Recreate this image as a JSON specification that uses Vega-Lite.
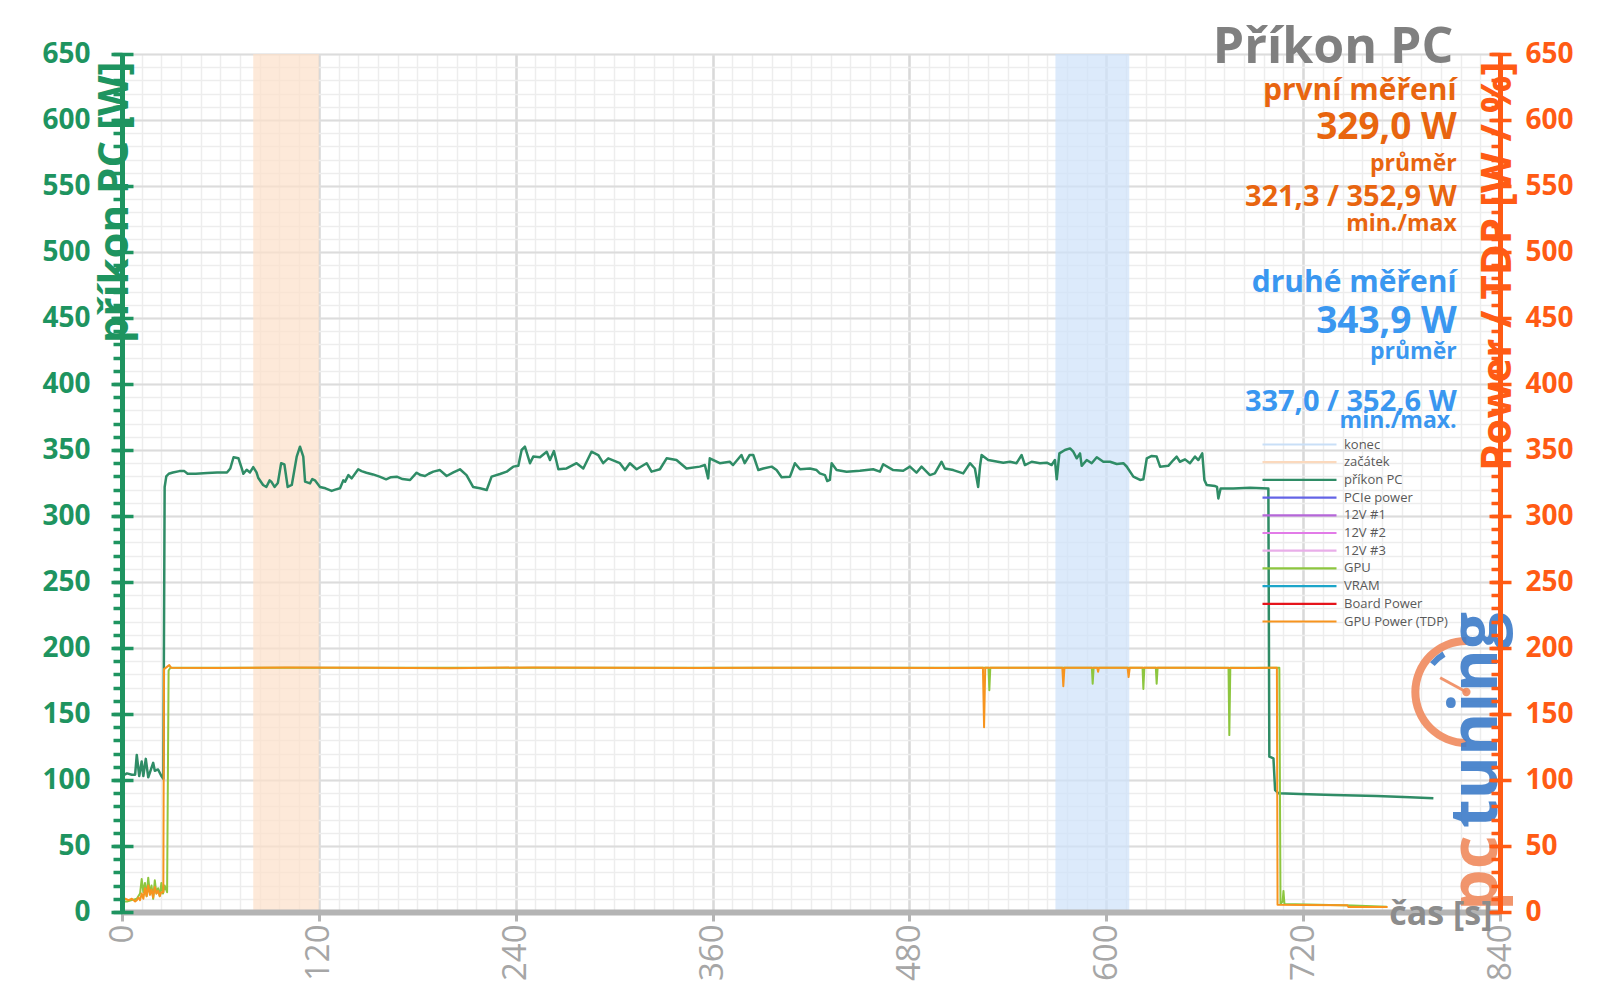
{
  "$schema": "https://vega.github.io/schema/vega-lite/v6.json",
  "width": 1378,
  "height": 858,
  "autosize": {"type": "none"},
  "padding": {"left": 122, "top": 54, "right": 100, "bottom": 96},
  "background": "white",
  "config": {"view": {"stroke": null}, "font": "Open Sans"},
  "resolve": {"axis": {"x": "independent", "y": "independent"}},
  "datasets": {
    "bands": [
      {"name": "začátek", "start": 80, "end": 120},
      {"name": "konec", "start": 569, "end": 614}
    ],
    "series": [
      {"s":"příkon PC","t":0,"v":103},{"s":"příkon PC","t":3,"v":105},{"s":"příkon PC","t":6,"v":104},{"s":"příkon PC","t":8,"v":104},{"s":"příkon PC","t":9,"v":119},{"s":"příkon PC","t":10.5,"v":103},{"s":"příkon PC","t":12,"v":114},{"s":"příkon PC","t":13,"v":103},{"s":"příkon PC","t":14.5,"v":116},{"s":"příkon PC","t":16,"v":102},{"s":"příkon PC","t":19,"v":113},{"s":"příkon PC","t":20,"v":107},{"s":"příkon PC","t":22,"v":108},{"s":"příkon PC","t":24,"v":103},{"s":"příkon PC","t":25.2,"v":101},{"s":"příkon PC","t":26,"v":322},{"s":"příkon PC","t":27,"v":330},{"s":"příkon PC","t":28.5,"v":332},{"s":"příkon PC","t":31,"v":333},{"s":"příkon PC","t":35,"v":334},{"s":"příkon PC","t":38,"v":334},{"s":"příkon PC","t":40,"v":332},{"s":"příkon PC","t":45,"v":332},{"s":"příkon PC","t":52,"v":332.5},{"s":"příkon PC","t":58,"v":333},{"s":"příkon PC","t":64,"v":333},{"s":"příkon PC","t":66,"v":336},{"s":"příkon PC","t":68,"v":344.5},{"s":"příkon PC","t":71,"v":343.7},{"s":"příkon PC","t":73,"v":336},{"s":"příkon PC","t":74,"v":332},{"s":"příkon PC","t":76,"v":335},{"s":"příkon PC","t":78,"v":333},{"s":"příkon PC","t":80,"v":337},{"s":"příkon PC","t":82,"v":333},{"s":"příkon PC","t":83,"v":329},{"s":"příkon PC","t":86,"v":323.5},{"s":"příkon PC","t":88,"v":322},{"s":"příkon PC","t":90,"v":327},{"s":"příkon PC","t":91,"v":326},{"s":"příkon PC","t":93,"v":322},{"s":"příkon PC","t":95,"v":325},{"s":"příkon PC","t":97,"v":340},{"s":"příkon PC","t":99,"v":339},{"s":"příkon PC","t":101,"v":322},{"s":"příkon PC","t":103.5,"v":323.5},{"s":"příkon PC","t":106.5,"v":345},{"s":"příkon PC","t":108.5,"v":352.5},{"s":"příkon PC","t":110.5,"v":345},{"s":"příkon PC","t":111.6,"v":326},{"s":"příkon PC","t":114.6,"v":324.7},{"s":"příkon PC","t":116,"v":328},{"s":"příkon PC","t":117.6,"v":327},{"s":"příkon PC","t":120.7,"v":322},{"s":"příkon PC","t":124,"v":321},{"s":"příkon PC","t":127.8,"v":319},{"s":"příkon PC","t":130,"v":320},{"s":"příkon PC","t":132.9,"v":321},{"s":"příkon PC","t":134.9,"v":327},{"s":"příkon PC","t":136,"v":326},{"s":"příkon PC","t":138,"v":331},{"s":"příkon PC","t":140,"v":328.5},{"s":"příkon PC","t":144,"v":335.4},{"s":"příkon PC","t":146,"v":334},{"s":"příkon PC","t":149,"v":332.8},{"s":"příkon PC","t":153,"v":331.5},{"s":"příkon PC","t":157,"v":329.8},{"s":"příkon PC","t":161,"v":327.8},{"s":"příkon PC","t":164,"v":329.4},{"s":"příkon PC","t":167.5,"v":329.8},{"s":"příkon PC","t":171,"v":328},{"s":"příkon PC","t":175.6,"v":327.3},{"s":"příkon PC","t":179.6,"v":332.8},{"s":"příkon PC","t":182,"v":331},{"s":"příkon PC","t":184.7,"v":330.3},{"s":"příkon PC","t":187,"v":332},{"s":"příkon PC","t":189.8,"v":333.6},{"s":"příkon PC","t":193.8,"v":334.8},{"s":"příkon PC","t":197.9,"v":330.3},{"s":"příkon PC","t":202,"v":333},{"s":"příkon PC","t":206,"v":335.4},{"s":"příkon PC","t":210,"v":331},{"s":"příkon PC","t":214,"v":322},{"s":"příkon PC","t":218.2,"v":321},{"s":"příkon PC","t":222.3,"v":319.7},{"s":"příkon PC","t":225.3,"v":329.8},{"s":"příkon PC","t":230.4,"v":331.8},{"s":"příkon PC","t":234.5,"v":333.6},{"s":"příkon PC","t":238.5,"v":337.4},{"s":"příkon PC","t":241.6,"v":338},{"s":"příkon PC","t":243.6,"v":350},{"s":"příkon PC","t":245.6,"v":352.5},{"s":"příkon PC","t":248.7,"v":340},{"s":"příkon PC","t":250.7,"v":345},{"s":"příkon PC","t":254.8,"v":344.5},{"s":"příkon PC","t":258.9,"v":348.7},{"s":"příkon PC","t":260.9,"v":342.4},{"s":"příkon PC","t":263.3,"v":349.2},{"s":"příkon PC","t":266,"v":335.4},{"s":"příkon PC","t":271,"v":336},{"s":"příkon PC","t":277.1,"v":340},{"s":"příkon PC","t":281.2,"v":336},{"s":"příkon PC","t":286.2,"v":348.7},{"s":"příkon PC","t":290.3,"v":346.2},{"s":"příkon PC","t":293.3,"v":340},{"s":"příkon PC","t":296.4,"v":343.7},{"s":"příkon PC","t":303.5,"v":340},{"s":"příkon PC","t":306.6,"v":334.8},{"s":"příkon PC","t":309.6,"v":340},{"s":"příkon PC","t":313.7,"v":335.4},{"s":"příkon PC","t":319.8,"v":340},{"s":"příkon PC","t":322.8,"v":333.6},{"s":"příkon PC","t":327.9,"v":335.4},{"s":"příkon PC","t":332,"v":343.7},{"s":"příkon PC","t":338,"v":342.4},{"s":"příkon PC","t":344.1,"v":336},{"s":"příkon PC","t":352.2,"v":337.4},{"s":"příkon PC","t":355.3,"v":338.6},{"s":"příkon PC","t":357.3,"v":328.5},{"s":"příkon PC","t":358.3,"v":343.7},{"s":"příkon PC","t":364.4,"v":340},{"s":"příkon PC","t":370.5,"v":341.1},{"s":"příkon PC","t":372.5,"v":338.6},{"s":"příkon PC","t":377.6,"v":346.2},{"s":"příkon PC","t":379.6,"v":340},{"s":"příkon PC","t":382.6,"v":346.2},{"s":"příkon PC","t":384.8,"v":346.2},{"s":"příkon PC","t":387.9,"v":334.8},{"s":"příkon PC","t":390.9,"v":336},{"s":"příkon PC","t":396,"v":337.4},{"s":"příkon PC","t":399,"v":334.8},{"s":"příkon PC","t":402.1,"v":329.3},{"s":"příkon PC","t":407.2,"v":329.8},{"s":"příkon PC","t":410.2,"v":340},{"s":"příkon PC","t":413.3,"v":335.4},{"s":"příkon PC","t":419.4,"v":336},{"s":"příkon PC","t":423.4,"v":334.8},{"s":"příkon PC","t":425.4,"v":332.3},{"s":"příkon PC","t":428.5,"v":331},{"s":"příkon PC","t":429.9,"v":326.5},{"s":"příkon PC","t":431.5,"v":327.3},{"s":"příkon PC","t":432.6,"v":340},{"s":"příkon PC","t":435.6,"v":334.8},{"s":"příkon PC","t":441.7,"v":333.6},{"s":"příkon PC","t":449.8,"v":334.3},{"s":"příkon PC","t":457.9,"v":335.4},{"s":"příkon PC","t":462,"v":333.6},{"s":"příkon PC","t":464,"v":339.2},{"s":"příkon PC","t":470.1,"v":334.8},{"s":"příkon PC","t":476.2,"v":334.3},{"s":"příkon PC","t":480.3,"v":337.4},{"s":"příkon PC","t":484.3,"v":332.8},{"s":"příkon PC","t":487.4,"v":337.4},{"s":"příkon PC","t":492.5,"v":331},{"s":"příkon PC","t":495.5,"v":332.3},{"s":"příkon PC","t":499.6,"v":341.1},{"s":"příkon PC","t":501.6,"v":336},{"s":"příkon PC","t":506.7,"v":334.8},{"s":"příkon PC","t":512.8,"v":332.3},{"s":"příkon PC","t":516.9,"v":340},{"s":"příkon PC","t":519.9,"v":336},{"s":"příkon PC","t":521.9,"v":322},{"s":"příkon PC","t":523,"v":337.4},{"s":"příkon PC","t":524,"v":346.2},{"s":"příkon PC","t":528,"v":342.4},{"s":"příkon PC","t":537.2,"v":340.4},{"s":"příkon PC","t":541.3,"v":341.1},{"s":"příkon PC","t":545.3,"v":340},{"s":"příkon PC","t":548.4,"v":346.2},{"s":"příkon PC","t":550.4,"v":338.6},{"s":"příkon PC","t":554.5,"v":341.1},{"s":"příkon PC","t":559.6,"v":340},{"s":"příkon PC","t":563.7,"v":340.4},{"s":"příkon PC","t":566.7,"v":338.6},{"s":"příkon PC","t":568.7,"v":342.4},{"s":"příkon PC","t":569.8,"v":327.8},{"s":"příkon PC","t":571.4,"v":347.4},{"s":"příkon PC","t":574.8,"v":350},{"s":"příkon PC","t":577.9,"v":351.2},{"s":"příkon PC","t":579.9,"v":348.7},{"s":"příkon PC","t":582,"v":343.7},{"s":"příkon PC","t":584,"v":347.4},{"s":"příkon PC","t":585,"v":338},{"s":"příkon PC","t":588.1,"v":342.4},{"s":"příkon PC","t":591.1,"v":340},{"s":"příkon PC","t":594.2,"v":344.5},{"s":"příkon PC","t":598.2,"v":341.1},{"s":"příkon PC","t":602.3,"v":341.1},{"s":"příkon PC","t":606.4,"v":339.4},{"s":"příkon PC","t":610.4,"v":340},{"s":"příkon PC","t":612.4,"v":337.5},{"s":"příkon PC","t":616.5,"v":329.8},{"s":"příkon PC","t":620.6,"v":327.3},{"s":"příkon PC","t":622.6,"v":327.8},{"s":"příkon PC","t":624.7,"v":343.7},{"s":"příkon PC","t":627.7,"v":345.5},{"s":"příkon PC","t":630.7,"v":345},{"s":"příkon PC","t":632.8,"v":337.4},{"s":"příkon PC","t":637.8,"v":338},{"s":"příkon PC","t":640.9,"v":342.4},{"s":"příkon PC","t":642.9,"v":345},{"s":"příkon PC","t":644.9,"v":341.1},{"s":"příkon PC","t":648,"v":342.9},{"s":"příkon PC","t":651,"v":340},{"s":"příkon PC","t":654.1,"v":345},{"s":"příkon PC","t":656.1,"v":342.4},{"s":"příkon PC","t":658.5,"v":347.4},{"s":"příkon PC","t":659.8,"v":327.3},{"s":"příkon PC","t":661.2,"v":323.5},{"s":"příkon PC","t":666.3,"v":322.7},{"s":"příkon PC","t":667.5,"v":322},{"s":"příkon PC","t":668.3,"v":313.3},{"s":"příkon PC","t":669.7,"v":320.9},{"s":"příkon PC","t":677.4,"v":320.9},{"s":"příkon PC","t":687.6,"v":321.4},{"s":"příkon PC","t":698.8,"v":320.9},{"s":"příkon PC","t":699.4,"v":117.7},{"s":"příkon PC","t":701.9,"v":116.4},{"s":"příkon PC","t":702.9,"v":92.4},{"s":"příkon PC","t":705,"v":89.9},{"s":"příkon PC","t":718.1,"v":89.4},{"s":"příkon PC","t":738.4,"v":88.6},{"s":"příkon PC","t":764.9,"v":87.9},{"s":"příkon PC","t":785.1,"v":86.9},{"s":"příkon PC","t":799.4,"v":86.1},
      {"s":"GPU","t":0,"v":8},{"s":"GPU","t":3,"v":8},{"s":"GPU","t":6,"v":9},{"s":"GPU","t":9,"v":10},{"s":"GPU","t":11,"v":14},{"s":"GPU","t":12,"v":25},{"s":"GPU","t":13,"v":15},{"s":"GPU","t":14,"v":22},{"s":"GPU","t":15,"v":12},{"s":"GPU","t":16,"v":26},{"s":"GPU","t":17,"v":14},{"s":"GPU","t":18,"v":20},{"s":"GPU","t":19,"v":10},{"s":"GPU","t":20,"v":24},{"s":"GPU","t":21,"v":14},{"s":"GPU","t":22,"v":18},{"s":"GPU","t":23,"v":12},{"s":"GPU","t":24,"v":22},{"s":"GPU","t":25,"v":14},{"s":"GPU","t":26,"v":20},{"s":"GPU","t":27.5,"v":15},{"s":"GPU","t":28.4,"v":183},{"s":"GPU","t":29.5,"v":185},{"s":"GPU","t":100,"v":185},{"s":"GPU","t":200,"v":185},{"s":"GPU","t":300,"v":185},{"s":"GPU","t":400,"v":185},{"s":"GPU","t":500,"v":185},{"s":"GPU","t":528.2,"v":185},{"s":"GPU","t":528.7,"v":168},{"s":"GPU","t":529.3,"v":185},{"s":"GPU","t":591.2,"v":185},{"s":"GPU","t":591.7,"v":173},{"s":"GPU","t":592.3,"v":185},{"s":"GPU","t":622.1,"v":185},{"s":"GPU","t":622.6,"v":169},{"s":"GPU","t":623.2,"v":185},{"s":"GPU","t":630.2,"v":185},{"s":"GPU","t":630.7,"v":173},{"s":"GPU","t":631.3,"v":185},{"s":"GPU","t":674.5,"v":185},{"s":"GPU","t":675,"v":134},{"s":"GPU","t":675.6,"v":185},{"s":"GPU","t":705.5,"v":185},{"s":"GPU","t":706.2,"v":6},{"s":"GPU","t":707.5,"v":8},{"s":"GPU","t":708,"v":16},{"s":"GPU","t":708.6,"v":6},{"s":"GPU","t":750,"v":5},{"s":"GPU","t":771,"v":4},
      {"s":"GPU Power (TDP)","t":0,"v":9},{"s":"GPU Power (TDP)","t":2,"v":10},{"s":"GPU Power (TDP)","t":4,"v":9},{"s":"GPU Power (TDP)","t":6,"v":10},{"s":"GPU Power (TDP)","t":8,"v":8},{"s":"GPU Power (TDP)","t":9,"v":9},{"s":"GPU Power (TDP)","t":10,"v":11},{"s":"GPU Power (TDP)","t":11,"v":9},{"s":"GPU Power (TDP)","t":12,"v":14},{"s":"GPU Power (TDP)","t":13,"v":10},{"s":"GPU Power (TDP)","t":14,"v":18},{"s":"GPU Power (TDP)","t":15,"v":12},{"s":"GPU Power (TDP)","t":16,"v":20},{"s":"GPU Power (TDP)","t":17,"v":13},{"s":"GPU Power (TDP)","t":18,"v":17},{"s":"GPU Power (TDP)","t":19,"v":11},{"s":"GPU Power (TDP)","t":20,"v":19},{"s":"GPU Power (TDP)","t":21,"v":14},{"s":"GPU Power (TDP)","t":22,"v":16},{"s":"GPU Power (TDP)","t":23,"v":12},{"s":"GPU Power (TDP)","t":24,"v":15},{"s":"GPU Power (TDP)","t":25.2,"v":15},{"s":"GPU Power (TDP)","t":25.6,"v":184},{"s":"GPU Power (TDP)","t":28.8,"v":187},{"s":"GPU Power (TDP)","t":30,"v":185},{"s":"GPU Power (TDP)","t":60,"v":184.8},{"s":"GPU Power (TDP)","t":100,"v":185.2},{"s":"GPU Power (TDP)","t":150,"v":185},{"s":"GPU Power (TDP)","t":200,"v":184.7},{"s":"GPU Power (TDP)","t":250,"v":185.3},{"s":"GPU Power (TDP)","t":300,"v":185},{"s":"GPU Power (TDP)","t":350,"v":184.8},{"s":"GPU Power (TDP)","t":400,"v":185.1},{"s":"GPU Power (TDP)","t":450,"v":185},{"s":"GPU Power (TDP)","t":500,"v":184.9},{"s":"GPU Power (TDP)","t":524.8,"v":185},{"s":"GPU Power (TDP)","t":525.5,"v":140},{"s":"GPU Power (TDP)","t":526.2,"v":185},{"s":"GPU Power (TDP)","t":550,"v":185.1},{"s":"GPU Power (TDP)","t":573.2,"v":185},{"s":"GPU Power (TDP)","t":573.8,"v":171},{"s":"GPU Power (TDP)","t":574.5,"v":185},{"s":"GPU Power (TDP)","t":594.5,"v":185},{"s":"GPU Power (TDP)","t":595,"v":182},{"s":"GPU Power (TDP)","t":595.5,"v":185},{"s":"GPU Power (TDP)","t":613,"v":185},{"s":"GPU Power (TDP)","t":613.6,"v":178},{"s":"GPU Power (TDP)","t":614.3,"v":185},{"s":"GPU Power (TDP)","t":650,"v":185},{"s":"GPU Power (TDP)","t":690,"v":184.9},{"s":"GPU Power (TDP)","t":704,"v":185},{"s":"GPU Power (TDP)","t":704.4,"v":5.5},{"s":"GPU Power (TDP)","t":720,"v":5.3},{"s":"GPU Power (TDP)","t":747,"v":5.2},{"s":"GPU Power (TDP)","t":747.6,"v":3.8},{"s":"GPU Power (TDP)","t":771.5,"v":3.8}
    ]
  },
  "layer": [
    {
      "data": {"values": [{}]},
      "mark": {"type": "point", "opacity": 0},
      "encoding": {
        "x": {"datum": 0, "type": "quantitative", "scale": {"domain": [0, 840], "nice": false, "zero": false},
          "axis": {"orient": "bottom", "values": [0,12,24,36,48,60,72,84,96,108,120,132,144,156,168,180,192,204,216,228,240,252,264,276,288,300,312,324,336,348,360,372,384,396,408,420,432,444,456,468,480,492,504,516,528,540,552,564,576,588,600,612,624,636,648,660,672,684,696,708,720,732,744,756,768,780,792,804,816,828,840],
            "grid": true, "gridColor": "#EDEDED", "gridWidth": 1.5, "domain": false, "ticks": false, "labels": false, "title": null, "zindex": 0}},
        "y": {"datum": 0, "type": "quantitative", "scale": {"domain": [0, 650], "nice": false},
          "axis": {"orient": "left", "values": [0,10,20,30,40,50,60,70,80,90,100,110,120,130,140,150,160,170,180,190,200,210,220,230,240,250,260,270,280,290,300,310,320,330,340,350,360,370,380,390,400,410,420,430,440,450,460,470,480,490,500,510,520,530,540,550,560,570,580,590,600,610,620,630,640,650],
            "grid": true, "gridColor": "#EDEDED", "gridWidth": 1.5, "domain": false, "ticks": false, "labels": false, "title": null, "zindex": 0}}
      }
    },
    {
      "data": {"values": [{}]},
      "mark": {"type": "point", "opacity": 0},
      "encoding": {
        "x": {"datum": 0, "type": "quantitative", "scale": {"domain": [0, 840], "nice": false, "zero": false},
          "axis": {"orient": "bottom", "values": [0,120,240,360,480,600,720,840], "grid": true, "gridColor": "#D9D9D9", "gridWidth": 2.5, "domain": false, "ticks": false, "labels": false, "title": null, "zindex": 0}},
        "y": {"datum": 0, "type": "quantitative", "scale": {"domain": [0, 650], "nice": false},
          "axis": {"orient": "left", "values": [0,50,100,150,200,250,300,350,400,450,500,550,600,650], "grid": true, "gridColor": "#DCDCDC", "gridWidth": 2, "domain": false, "ticks": false, "labels": false, "title": null, "zindex": 0}}
      }
    },
    {
      "data": {"name": "bands"},
      "mark": {"type": "rect", "opacity": 0.72},
      "encoding": {
        "x": {"field": "start", "type": "quantitative", "scale": {"domain": [0, 840], "nice": false, "zero": false}, "axis": null},
        "x2": {"field": "end"},
        "fill": {"condition": {"test": "datum.name === 'konec'", "value": "#CFE2FA"}, "value": "#FCE0CA"}
      }
    },
    {
      "data": {"name": "series"},
      "transform": [{"filter": "datum.s === 'příkon PC'"}],
      "mark": {"type": "line", "strokeWidth": 2.5, "strokeJoin": "round"},
      "encoding": {
        "x": {"field": "t", "type": "quantitative", "scale": {"domain": [0, 840], "nice": false, "zero": false}, "axis": null},
        "y": {"field": "v", "type": "quantitative", "scale": {"domain": [0, 650], "nice": false}, "axis": null},
        "color": {"field": "s", "type": "nominal",
          "scale": {"domain": ["konec","začátek","příkon PC","PCIe power","12V #1","12V #2","12V #3","GPU","VRAM","Board Power","GPU Power (TDP)"],
                    "range": ["#C9DFF7","#FBD9BD","#2F8C66","#6464E6","#B566D9","#E27BE8","#E9AEE9","#8DC63F","#1CA5C9","#E5141B","#F7941E"]},
          "legend": {"orient": "none", "legendX": 1171, "legendY": 384, "title": null, "symbolType": "M -7.4 0 H 7.4", "symbolSize": 100, "symbolStrokeWidth": 2.2, "labelFont": "Open Sans", "labelFontSize": 13, "labelColor": "#595959", "labelOffset": 38, "rowPadding": 3.7, "padding": 0}}
      }
    },
    {
      "data": {"name": "series"},
      "transform": [{"filter": "datum.s === 'GPU'"}],
      "mark": {"type": "line", "strokeWidth": 2, "strokeJoin": "round"},
      "encoding": {
        "x": {"field": "t", "type": "quantitative", "scale": {"domain": [0, 840], "nice": false, "zero": false}, "axis": null},
        "y": {"field": "v", "type": "quantitative", "scale": {"domain": [0, 650], "nice": false}, "axis": null},
        "color": {"field": "s", "type": "nominal",
          "scale": {"domain": ["konec","začátek","příkon PC","PCIe power","12V #1","12V #2","12V #3","GPU","VRAM","Board Power","GPU Power (TDP)"],
                    "range": ["#C9DFF7","#FBD9BD","#2F8C66","#6464E6","#B566D9","#E27BE8","#E9AEE9","#8DC63F","#1CA5C9","#E5141B","#F7941E"]},
          "legend": {"orient": "none", "legendX": 1171, "legendY": 384, "title": null, "symbolType": "M -7.4 0 H 7.4", "symbolSize": 100, "symbolStrokeWidth": 2.2, "labelFont": "Open Sans", "labelFontSize": 13, "labelColor": "#595959", "labelOffset": 38, "rowPadding": 3.7, "padding": 0}}
      }
    },
    {
      "data": {"name": "series"},
      "transform": [{"filter": "datum.s === 'GPU Power (TDP)'"}],
      "mark": {"type": "line", "strokeWidth": 2, "strokeJoin": "round"},
      "encoding": {
        "x": {"field": "t", "type": "quantitative", "scale": {"domain": [0, 840], "nice": false, "zero": false}, "axis": null},
        "y": {"field": "v", "type": "quantitative", "scale": {"domain": [0, 650], "nice": false}, "axis": null},
        "color": {"field": "s", "type": "nominal",
          "scale": {"domain": ["konec","začátek","příkon PC","PCIe power","12V #1","12V #2","12V #3","GPU","VRAM","Board Power","GPU Power (TDP)"],
                    "range": ["#C9DFF7","#FBD9BD","#2F8C66","#6464E6","#B566D9","#E27BE8","#E9AEE9","#8DC63F","#1CA5C9","#E5141B","#F7941E"]},
          "legend": {"orient": "none", "legendX": 1171, "legendY": 384, "title": null, "symbolType": "M -7.4 0 H 7.4", "symbolSize": 100, "symbolStrokeWidth": 2.2, "labelFont": "Open Sans", "labelFontSize": 13, "labelColor": "#595959", "labelOffset": 38, "rowPadding": 3.7, "padding": 0}}
      }
    },
    {"data": {"values": [{}]}, "mark": {"type": "text", "text": "Příkon PC", "align": "right", "baseline": "alphabetic", "font": "Open Sans", "fontSize": 50, "fontWeight": "bold", "fill": "#808080"},
     "encoding": {"x": {"datum": 811.5, "type": "quantitative", "scale": {"domain": [0, 840], "nice": false, "zero": false}, "axis": null}, "y": {"datum": 643, "type": "quantitative", "scale": {"domain": [0, 650], "nice": false}, "axis": null}}},
    {"data": {"values": [{}]}, "mark": {"type": "text", "text": "první měření", "align": "right", "baseline": "alphabetic", "font": "Open Sans", "fontSize": 30, "fontWeight": "bold", "fill": "#E8650F"},
     "encoding": {"x": {"datum": 813.6, "type": "quantitative", "scale": {"domain": [0, 840], "nice": false, "zero": false}, "axis": null}, "y": {"datum": 615, "type": "quantitative", "scale": {"domain": [0, 650], "nice": false}, "axis": null}}},
    {"data": {"values": [{}]}, "mark": {"type": "text", "text": "329,0 W", "align": "right", "baseline": "alphabetic", "font": "Open Sans", "fontSize": 37, "fontWeight": "bold", "fill": "#E8650F"},
     "encoding": {"x": {"datum": 813.6, "type": "quantitative", "scale": {"domain": [0, 840], "nice": false, "zero": false}, "axis": null}, "y": {"datum": 585.4, "type": "quantitative", "scale": {"domain": [0, 650], "nice": false}, "axis": null}}},
    {"data": {"values": [{}]}, "mark": {"type": "text", "text": "průměr", "align": "right", "baseline": "alphabetic", "font": "Open Sans", "fontSize": 23, "fontWeight": "bold", "fill": "#E8650F"},
     "encoding": {"x": {"datum": 813.6, "type": "quantitative", "scale": {"domain": [0, 840], "nice": false, "zero": false}, "axis": null}, "y": {"datum": 561.5, "type": "quantitative", "scale": {"domain": [0, 650], "nice": false}, "axis": null}}},
    {"data": {"values": [{}]}, "mark": {"type": "text", "text": "321,3 / 352,9 W", "align": "right", "baseline": "alphabetic", "font": "Open Sans", "fontSize": 29, "fontWeight": "bold", "fill": "#E8650F"},
     "encoding": {"x": {"datum": 813.6, "type": "quantitative", "scale": {"domain": [0, 840], "nice": false, "zero": false}, "axis": null}, "y": {"datum": 534.9, "type": "quantitative", "scale": {"domain": [0, 650], "nice": false}, "axis": null}}},
    {"data": {"values": [{}]}, "mark": {"type": "text", "text": "min./max", "align": "right", "baseline": "alphabetic", "font": "Open Sans", "fontSize": 23, "fontWeight": "bold", "fill": "#E8650F"},
     "encoding": {"x": {"datum": 813.6, "type": "quantitative", "scale": {"domain": [0, 840], "nice": false, "zero": false}, "axis": null}, "y": {"datum": 516, "type": "quantitative", "scale": {"domain": [0, 650], "nice": false}, "axis": null}}},
    {"data": {"values": [{}]}, "mark": {"type": "text", "text": "druhé měření", "align": "right", "baseline": "alphabetic", "font": "Open Sans", "fontSize": 30, "fontWeight": "bold", "fill": "#3A97F0"},
     "encoding": {"x": {"datum": 813.6, "type": "quantitative", "scale": {"domain": [0, 840], "nice": false, "zero": false}, "axis": null}, "y": {"datum": 470, "type": "quantitative", "scale": {"domain": [0, 650], "nice": false}, "axis": null}}},
    {"data": {"values": [{}]}, "mark": {"type": "text", "text": "343,9 W", "align": "right", "baseline": "alphabetic", "font": "Open Sans", "fontSize": 37, "fontWeight": "bold", "fill": "#3A97F0"},
     "encoding": {"x": {"datum": 813.6, "type": "quantitative", "scale": {"domain": [0, 840], "nice": false, "zero": false}, "axis": null}, "y": {"datum": 438.3, "type": "quantitative", "scale": {"domain": [0, 650], "nice": false}, "axis": null}}},
    {"data": {"values": [{}]}, "mark": {"type": "text", "text": "průměr", "align": "right", "baseline": "alphabetic", "font": "Open Sans", "fontSize": 23, "fontWeight": "bold", "fill": "#3A97F0"},
     "encoding": {"x": {"datum": 813.6, "type": "quantitative", "scale": {"domain": [0, 840], "nice": false, "zero": false}, "axis": null}, "y": {"datum": 419, "type": "quantitative", "scale": {"domain": [0, 650], "nice": false}, "axis": null}}},
    {"data": {"values": [{}]}, "mark": {"type": "text", "text": "337,0 / 352,6 W", "align": "right", "baseline": "alphabetic", "font": "Open Sans", "fontSize": 29, "fontWeight": "bold", "fill": "#3A97F0"},
     "encoding": {"x": {"datum": 813.6, "type": "quantitative", "scale": {"domain": [0, 840], "nice": false, "zero": false}, "axis": null}, "y": {"datum": 379.5, "type": "quantitative", "scale": {"domain": [0, 650], "nice": false}, "axis": null}}},
    {"data": {"values": [{}]}, "mark": {"type": "text", "text": "min./max.", "align": "right", "baseline": "alphabetic", "font": "Open Sans", "fontSize": 23, "fontWeight": "bold", "fill": "#3A97F0"},
     "encoding": {"x": {"datum": 813.6, "type": "quantitative", "scale": {"domain": [0, 840], "nice": false, "zero": false}, "axis": null}, "y": {"datum": 366.8, "type": "quantitative", "scale": {"domain": [0, 650], "nice": false}, "axis": null}}},
    {"data": {"values": [{}]}, "mark": {"type": "arc", "radius": 55, "radius2": 47, "theta": 3.1416, "theta2": 6.2832, "fill": "#F08A5D", "opacity": 0.9},
     "encoding": {"x": {"datum": 819.5, "type": "quantitative", "scale": {"domain": [0, 840], "nice": false, "zero": false}, "axis": null}, "y": {"datum": 166.7, "type": "quantitative", "scale": {"domain": [0, 650], "nice": false}, "axis": null}}},
    {"data": {"values": [{}]}, "mark": {"type": "arc", "radius": 47, "radius2": 41, "theta": 5.4, "theta2": 5.75, "fill": "#3D7CC9", "opacity": 0.9},
     "encoding": {"x": {"datum": 819.5, "type": "quantitative", "scale": {"domain": [0, 840], "nice": false, "zero": false}, "axis": null}, "y": {"datum": 166.7, "type": "quantitative", "scale": {"domain": [0, 650], "nice": false}, "axis": null}}},
    {"data": {"values": [{}]}, "mark": {"type": "rule", "stroke": "#F08A5D", "strokeWidth": 3, "opacity": 0.9},
     "encoding": {"x": {"datum": 819.5, "type": "quantitative", "scale": {"domain": [0, 840], "nice": false, "zero": false}, "axis": null}, "y": {"datum": 166.7, "type": "quantitative", "scale": {"domain": [0, 650], "nice": false}, "axis": null}, "x2": {"datum": 803.5}, "y2": {"datum": 177.5}}},
    {"data": {"values": [{}]}, "mark": {"type": "point", "filled": true, "size": 70, "fill": "#F08A5D", "opacity": 0.9},
     "encoding": {"x": {"datum": 819.5, "type": "quantitative", "scale": {"domain": [0, 840], "nice": false, "zero": false}, "axis": null}, "y": {"datum": 166.7, "type": "quantitative", "scale": {"domain": [0, 650], "nice": false}, "axis": null}}},
    {"data": {"values": [{}]}, "mark": {"type": "text", "text": "pc", "angle": 270, "align": "left", "baseline": "middle", "font": "Open Sans", "fontSize": 66, "fontWeight": "bold", "fill": "#F08A5D", "opacity": 0.9},
     "encoding": {"x": {"datum": 826, "type": "quantitative", "scale": {"domain": [0, 840], "nice": false, "zero": false}, "axis": null}, "y": {"datum": 0.8, "type": "quantitative", "scale": {"domain": [0, 650], "nice": false}, "axis": null}}},
    {"data": {"values": [{}]}, "mark": {"type": "text", "text": "tuning", "angle": 270, "align": "left", "baseline": "middle", "font": "Open Sans", "fontSize": 66, "fontWeight": "bold", "fill": "#3D7CC9", "opacity": 0.9},
     "encoding": {"x": {"datum": 826, "type": "quantitative", "scale": {"domain": [0, 840], "nice": false, "zero": false}, "axis": null}, "y": {"datum": 63.6, "type": "quantitative", "scale": {"domain": [0, 650], "nice": false}, "axis": null}}},
    {
      "data": {"values": [{}]},
      "mark": {"type": "point", "opacity": 0},
      "encoding": {
        "x": {"datum": 0, "type": "quantitative", "scale": {"domain": [0, 840], "nice": false, "zero": false},
          "axis": {"orient": "bottom", "values": [0,120,240,360,480,600,720,840], "grid": false, "domain": true, "domainColor": "#B4B4B4", "domainWidth": 6, "ticks": true, "tickColor": "#B4B4B4", "tickWidth": 3, "tickSize": 9,
            "labelAngle": 270, "labelFont": "Open Sans", "labelFontSize": 33, "labelColor": "#A6A6A6", "labelPadding": 3, "labelFlush": false, "labelOverlap": false,
            "title": "čas [s]", "titleFont": "Open Sans", "titleFontSize": 34, "titleFontWeight": "bold", "titleColor": "#8C8C8C", "titleX": 1370, "titleY": 2, "titleAlign": "right", "titleBaseline": "middle", "titleAngle": 0, "zindex": 1}},
        "y": {"datum": 0, "type": "quantitative", "scale": {"domain": [0, 650], "nice": false},
          "axis": {"orient": "left", "values": [0,50,100,150,200,250,300,350,400,450,500,550,600,650], "grid": false, "domain": true, "domainColor": "#1E9460", "domainWidth": 5, "ticks": false,
            "labelFont": "Open Sans", "labelFontSize": 28, "labelFontWeight": "bold", "labelColor": "#1E9460", "labelPadding": 32, "labelOverlap": false,
            "title": "příkon PC [W]", "titleFont": "Open Sans", "titleFontSize": 42, "titleFontWeight": "bold", "titleColor": "#1E9460", "titleAngle": 270, "titleX": -8, "titleY": 7, "titleAlign": "right", "titleBaseline": "middle", "zindex": 1}}
      }
    },
    {
      "data": {"values": [{}]},
      "mark": {"type": "point", "opacity": 0},
      "encoding": {
        "y": {"datum": 0, "type": "quantitative", "scale": {"domain": [0, 650], "nice": false},
          "axis": {"orient": "left", "values": [0,10,20,30,40,50,60,70,80,90,100,110,120,130,140,150,160,170,180,190,200,210,220,230,240,250,260,270,280,290,300,310,320,330,340,350,360,370,380,390,400,410,420,430,440,450,460,470,480,490,500,510,520,530,540,550,560,570,580,590,600,610,620,630,640,650],
            "grid": false, "domain": false, "ticks": true, "tickColor": "#1E9460", "tickWidth": 3.5, "tickSize": 9, "labels": false, "title": null, "zindex": 1}}
      }
    },
    {
      "data": {"values": [{}]},
      "mark": {"type": "point", "opacity": 0},
      "encoding": {
        "y": {"datum": 0, "type": "quantitative", "scale": {"domain": [0, 650], "nice": false},
          "axis": {"orient": "left", "offset": -11, "values": [0,50,100,150,200,250,300,350,400,450,500,550,600,650],
            "grid": false, "domain": false, "ticks": true, "tickColor": "#1E9460", "tickWidth": 3.5, "tickSize": 22, "labels": false, "title": null, "zindex": 1}}
      }
    },
    {
      "data": {"values": [{}]},
      "mark": {"type": "point", "opacity": 0},
      "encoding": {
        "y": {"datum": 0, "type": "quantitative", "scale": {"domain": [0, 650], "nice": false},
          "axis": {"orient": "right", "values": [0,50,100,150,200,250,300,350,400,450,500,550,600,650], "grid": false, "domain": true, "domainColor": "#FF5B14", "domainWidth": 5, "ticks": false,
            "labelFont": "Open Sans", "labelFontSize": 28, "labelFontWeight": "bold", "labelColor": "#FF5B14", "labelPadding": 25, "labelOverlap": false,
            "title": "Power / TDP [W / %]", "titleFont": "Open Sans", "titleFontSize": 42, "titleFontWeight": "bold", "titleColor": "#FF5B14", "titleAngle": 270, "titleX": -3, "titleY": 7, "titleAlign": "right", "titleBaseline": "middle", "zindex": 1}}
      }
    },
    {
      "data": {"values": [{}]},
      "mark": {"type": "point", "opacity": 0},
      "encoding": {
        "y": {"datum": 0, "type": "quantitative", "scale": {"domain": [0, 650], "nice": false},
          "axis": {"orient": "right", "offset": -9, "values": [0,10,20,30,40,50,60,70,80,90,100,110,120,130,140,150,160,170,180,190,200,210,220,230,240,250,260,270,280,290,300,310,320,330,340,350,360,370,380,390,400,410,420,430,440,450,460,470,480,490,500,510,520,530,540,550,560,570,580,590,600,610,620,630,640,650],
            "grid": false, "domain": false, "ticks": true, "tickColor": "#FF5B14", "tickWidth": 3.5, "tickSize": 9, "labels": false, "title": null, "zindex": 1}}
      }
    },
    {
      "data": {"values": [{}]},
      "mark": {"type": "point", "opacity": 0},
      "encoding": {
        "y": {"datum": 0, "type": "quantitative", "scale": {"domain": [0, 650], "nice": false},
          "axis": {"orient": "right", "offset": -11, "values": [0,50,100,150,200,250,300,350,400,450,500,550,600,650],
            "grid": false, "domain": false, "ticks": true, "tickColor": "#FF5B14", "tickWidth": 3.5, "tickSize": 22, "labels": false, "title": null, "zindex": 1}}
      }
    }
  ]
}
